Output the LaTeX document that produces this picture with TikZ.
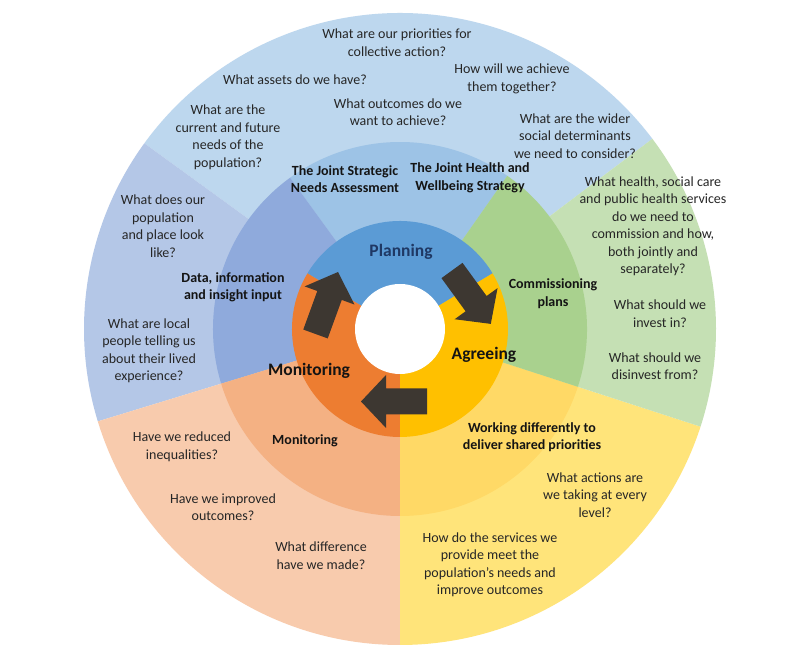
\documentclass[tikz,border=0pt]{standalone}
\usepackage{fontspec}
\setmainfont{Carlito}
\definecolor{oBlue}{HTML}{BDD7EE}
\definecolor{oLav}{HTML}{B4C7E7}
\definecolor{oPeach}{HTML}{F8CBAD}
\definecolor{oYel}{HTML}{FFE47A}
\definecolor{oGreen}{HTML}{C5E0B4}
\definecolor{mBlue}{HTML}{9DC3E6}
\definecolor{mLav}{HTML}{8FAADC}
\definecolor{mOrange}{HTML}{F4B183}
\definecolor{mYel}{HTML}{FFD966}
\definecolor{mGreen}{HTML}{A9D18E}
\definecolor{iBlue}{HTML}{5B9BD5}
\definecolor{iOrange}{HTML}{ED7D31}
\definecolor{iYel}{HTML}{FFC000}
\definecolor{arrowc}{HTML}{3D3731}
\definecolor{qtext}{HTML}{262626}
\definecolor{labtext}{HTML}{141414}
\definecolor{plantext}{HTML}{1F3864}
\newcommand\wedgefill[4]{\fill[#4] (0,0) -- (#1:#3) arc[start angle=#1, end angle=#2, radius=#3] -- cycle;}
\newcommand\blockarrow[3]{\fill[arrowc, shift={(#1,#2)}, rotate=#3] (0,-13) -- (41,-13) -- (41,-26.5) -- (66,0) -- (41,26.5) -- (41,13) -- (0,13) -- cycle;}
\begin{document}
\begin{tikzpicture}[x=1pt,y=1pt,
  q/.style={align=center, font=\fontsize{14}{17.5}\selectfont, text=qtext, inner sep=0pt},
  lab/.style={align=center, font=\fontsize{14}{17.5}\selectfont\bfseries, text=labtext, inner sep=0pt},
  big/.style={font=\fontsize{17.5}{20}\selectfont\bfseries, text=labtext, inner sep=0pt}]
\useasboundingbox (0,0) rectangle (812,661);
\fill[white] (0,0) rectangle (812,661);
\begin{scope}[shift={(400,332)}]
  % outer ring
  \wedgefill{37}{144}{316pt}{oBlue}
  \wedgefill{144}{197}{316pt}{oLav}
  \wedgefill{197}{270}{316pt}{oPeach}
  \wedgefill{270}{342}{316pt}{oYel}
  \wedgefill{-18}{37}{316pt}{oGreen}
  % middle ring
  \wedgefill{55}{126}{187pt}{mBlue}
  \wedgefill{126}{197}{187pt}{mLav}
  \wedgefill{197}{270}{187pt}{mOrange}
  \wedgefill{270}{342}{187pt}{mYel}
  \wedgefill{-18}{55}{187pt}{mGreen}
  % inner ring
  \wedgefill{31}{149}{108pt}{iBlue}
  \wedgefill{149}{270}{108pt}{iOrange}
  \wedgefill{-90}{31}{108pt}{iYel}
  \fill[white] (0,0) circle[radius=45pt];
\end{scope}
% arrows
\blockarrow{315.5}{327}{70}
\blockarrow{452}{390.5}{-54}
\blockarrow{427}{259.5}{180}
% inner labels
\node[big, text=plantext] (planning) at (401,409) {Planning};
\node[big] (agreeing) at (484,306) {Agreeing};
\node[big] (monitoringA) at (309,290) {Monitoring};
% middle ring labels
\node[lab] (jsna) at (345,482) {The Joint Strategic\\Needs Assessment};
\node[lab] (jhws) at (470,483) {The Joint Health and\\Wellbeing Strategy};
\node[lab] (data) at (233,373.5) {Data, information\\and insight input};
\node[lab] (comm) at (553,367.5) {Commissioning\\plans};
\node[lab] (monitoringB) at (305,220) {Monitoring};
\node[lab] (working) at (532,224) {Working differently to\\deliver shared priorities};
% outer ring questions
\node[q] (q1) at (397,618.5) {What are our priorities for\\collective action?};
\node[q] (q2) at (295,581) {What assets do we have?};
\node[q] (q3) at (512,582) {How will we achieve\\them together?};
\node[q] (q4) at (398,549) {What outcomes do we\\want to achieve?};
\node[q] (q5) at (228,523.5) {What are the\\current and future\\needs of the\\population?};
\node[q] (q6) at (575,525) {What are the wider\\social determinants\\we need to consider?};
\node[q] (q7) at (163,435) {What does our\\population\\and place look\\like?};
\node[q] (q8) at (149,310) {What are local\\people telling us\\about their lived\\experience?};
\node[q] (q9) at (653,434.5) {What health, social care\\and public health services\\do we need to\\commission and how,\\both jointly and\\separately?};
\node[q] (q10) at (660,347.5) {What should we\\invest in?};
\node[q] (q11) at (655,295) {What should we\\disinvest from?};
\node[q] (q12) at (182,214) {Have we reduced\\inequalities?};
\node[q] (q13) at (223,154) {Have we improved\\outcomes?};
\node[q] (q14) at (321,105.5) {What difference\\have we made?};
\node[q] (q15) at (595,166) {What actions are\\we taking at every\\level?};
\node[q] (q16) at (490,96) {How do the services we\\provide meet the\\population’s needs and\\improve outcomes};
\end{tikzpicture}
\end{document}
